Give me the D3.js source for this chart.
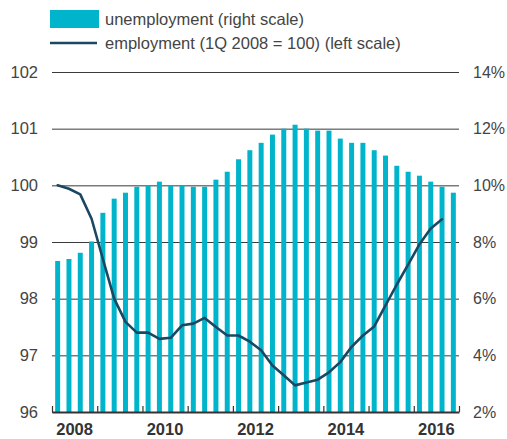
<!DOCTYPE html>
<html>
<head>
<meta charset="utf-8">
<script src="https://cdn.jsdelivr.net/npm/d3@7/dist/d3.min.js"></script>
<style>
  html, body { margin: 0; padding: 0; background: #fff; }
  svg { display: block; font-family: "Liberation Sans", Arial, sans-serif; }
</style>
</head>
<body>
<svg id="chart" width="507" height="439"></svg>
<script>
// ---- data ----
const years = [2008, 2009, 2010, 2011, 2012, 2013, 2014, 2015, 2016];
const quarters = years.flatMap(y => [1, 2, 3, 4].map(q => y + "Q" + q));
const unemployment = [
  7.33, 7.40, 7.62, 8.02,
  9.03, 9.53, 9.74, 9.95,
  10.00, 10.13, 9.99, 9.99,
  9.95, 9.95, 10.20, 10.48,
  10.92, 11.24, 11.50, 11.79,
  12.00, 12.14, 12.00, 11.93,
  11.93, 11.65, 11.50, 11.50,
  11.24, 11.05, 10.69, 10.48,
  10.34, 10.13, 9.95, 9.74
];
const employment = [
  100.00, 99.94, 99.84, 99.41,
  98.70, 98.00, 97.59, 97.40,
  97.40, 97.29, 97.31, 97.53,
  97.56, 97.66, 97.50, 97.35,
  97.35, 97.24, 97.09, 96.82,
  96.65, 96.47, 96.52, 96.57,
  96.70, 96.88, 97.15, 97.35,
  97.51, 97.88, 98.25, 98.60,
  98.96, 99.24, 99.40
];
const leftTicks = [96, 97, 98, 99, 100, 101, 102];
const rightTicks = [2, 4, 6, 8, 10, 12, 14];
const yearLabels = [2008, 2010, 2012, 2014, 2016];
const legendLabels = ["unemployment (right scale)", "employment (1Q 2008 = 100) (left scale)"];

// ---- layout ----
const svg = d3.select("#chart");
const x0 = 52, x1 = 459, yTop = 72, yBot = 412;
const barColor = "#00b5cb", lineColor = "#1b4763", textColor = "#444";

const x = d3.scaleBand().domain(quarters).range([x0, x1]).paddingInner(0.56).paddingOuter(0.28);
const xYear = d3.scaleLinear().domain([2008, 2017]).range([x0, x1]);
const yL = d3.scaleLinear().domain([96, 102]).range([yBot, yTop]);
const yR = d3.scaleLinear().domain([2, 14]).range([yBot, yTop]);

// gridlines + left labels
const gL = svg.append("g").attr("transform", `translate(${x0},0)`)
  .call(d3.axisLeft(yL).tickValues(leftTicks).tickSize(-(x1 - x0)).tickPadding(14).tickFormat(d3.format("d")));
gL.select(".domain").remove();
gL.selectAll(".tick line").attr("stroke", "#3a3a3a").attr("stroke-width", 1);
gL.selectAll(".tick text").attr("fill", textColor).style("font-size", "16.5px").style("font-family", "Liberation Sans, Arial, sans-serif");

// right labels
const gR = svg.append("g").attr("transform", `translate(${x1},0)`)
  .call(d3.axisRight(yR).tickValues(rightTicks).tickSize(0).tickPadding(14).tickFormat(d => d + "%"));
gR.select(".domain").remove();
gR.selectAll(".tick text").attr("fill", textColor).style("font-size", "16px").style("font-family", "Liberation Sans, Arial, sans-serif");

// bars
svg.append("g").selectAll("rect").data(unemployment).join("rect")
  .attr("x", (d, i) => x(quarters[i]))
  .attr("width", x.bandwidth())
  .attr("y", d => yR(d))
  .attr("height", d => yR(2) - yR(d))
  .attr("fill", barColor);

// line
const line = d3.line()
  .x((d, i) => x(quarters[i]) + x.bandwidth() / 2)
  .y(d => yL(d));
svg.append("path").datum(employment)
  .attr("d", line)
  .attr("fill", "none")
  .attr("stroke", lineColor)
  .attr("stroke-width", 2.6)
  .attr("stroke-linejoin", "round")
  .attr("stroke-linecap", "round");

// bottom axis
const gB = svg.append("g").attr("transform", `translate(0,${yBot})`)
  .call(d3.axisBottom(xYear).tickValues(d3.range(2008, 2018)).tickSize(-6).tickSizeOuter(0).tickFormat(""));
gB.select(".domain").attr("stroke", "#333").attr("stroke-width", 2);
gB.selectAll(".tick line").attr("stroke", "#333").attr("stroke-width", 1.2);

svg.append("g").selectAll("text").data(yearLabels).join("text")
  .attr("x", d => xYear(d + 0.5))
  .attr("y", 435)
  .attr("text-anchor", "middle")
  .attr("fill", "#333")
  .style("font-size", "16.5px")
  .style("font-weight", "bold")
  .text(d => d);

// legend
const lg = svg.append("g");
lg.append("rect").attr("x", 50).attr("y", 10).attr("width", 49).attr("height", 18).attr("fill", barColor);
lg.append("line").attr("x1", 50).attr("x2", 97).attr("y1", 43).attr("y2", 43)
  .attr("stroke", lineColor).attr("stroke-width", 2.6);
lg.selectAll("text").data(legendLabels).join("text")
  .attr("x", 105)
  .attr("y", (d, i) => 25 + i * 24)
  .attr("fill", textColor)
  .style("font-size", "16.5px")
  .text(d => d);
</script>
</body>
</html>
